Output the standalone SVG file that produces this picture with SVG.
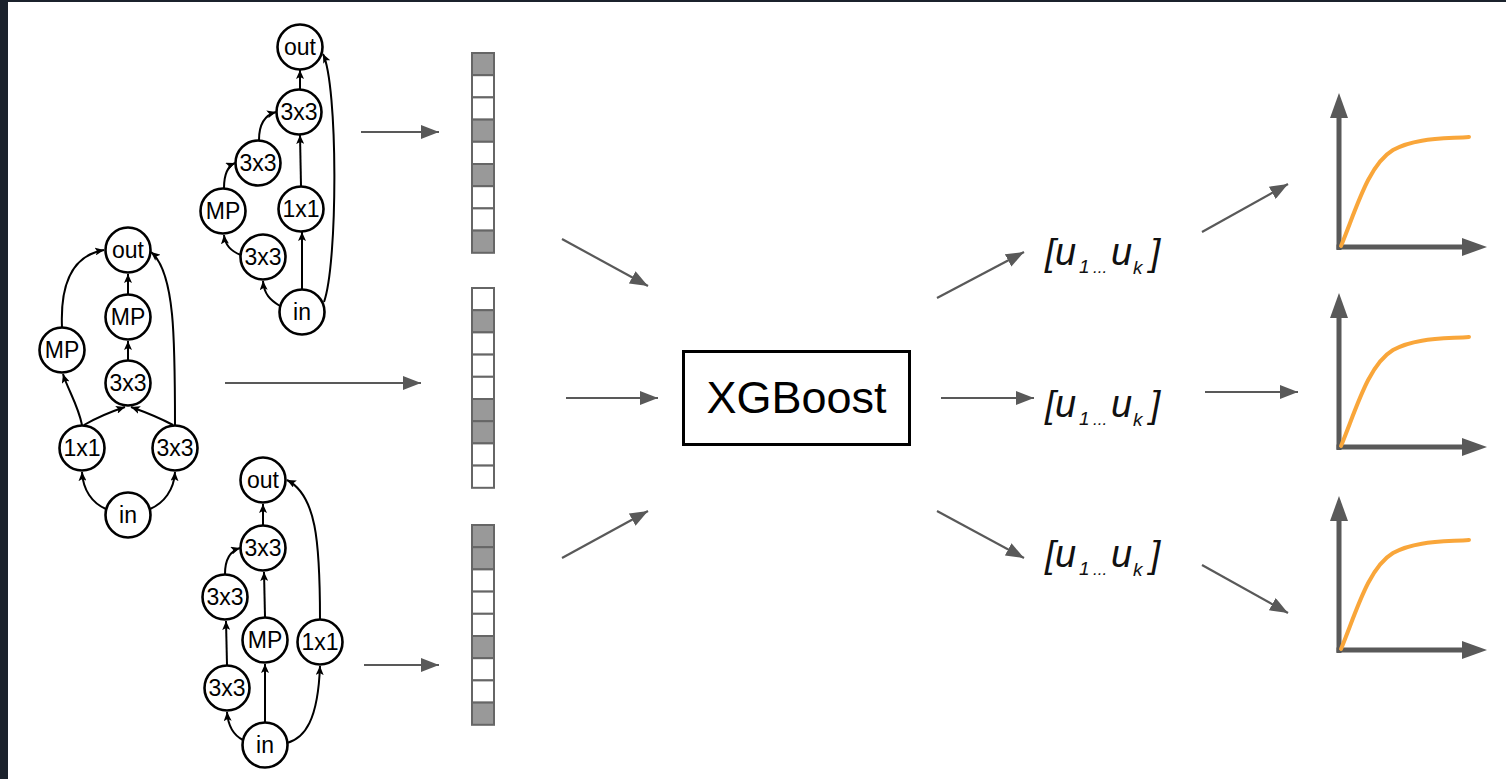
<svg xmlns="http://www.w3.org/2000/svg" xmlns:xlink="http://www.w3.org/1999/xlink" width="1506" height="779" viewBox="0 0 1506 779">
<style>
.nd circle{fill:#fff;stroke:#000;stroke-width:2.6}
.nd text{font-family:"Liberation Sans",Arial,sans-serif;font-size:23px;text-anchor:middle;fill:#000}
.ge{fill:none;stroke:#000;stroke-width:2;marker-end:url(#ah)}
.ce{fill:none;stroke:#595959;stroke-width:2.2;marker-end:url(#gh)}
.cell{stroke:#666;stroke-width:2}
.on{fill:#999}
.off{fill:#fff}
.lbl{font-family:"Liberation Sans",Arial,sans-serif;font-style:italic;fill:#111}
.ax{stroke:#595959;stroke-width:5;fill:none}
.axh{fill:#595959}
.cv{fill:none;stroke:#f9a63a;stroke-width:4;stroke-linecap:round}
</style>
<defs>
<marker id="ah" viewBox="0 0 9 8" refX="9" refY="4" markerWidth="9" markerHeight="8" markerUnits="userSpaceOnUse" orient="auto"><path d="M0,0 L9,4 L0,8 L2,4 z" fill="#000"/></marker>
<marker id="gh" viewBox="0 0 18 14" refX="18" refY="7" markerWidth="18" markerHeight="14" markerUnits="userSpaceOnUse" orient="auto"><path d="M0,0 L18,7 L0,14 z" fill="#595959"/></marker>
<g id="chartShape">
<line class="ax" x1="1339" y1="250" x2="1339" y2="114"/>
<polygon class="axh" points="1330,118 1339,93 1348,118"/>
<line class="ax" x1="1336.5" y1="247" x2="1465" y2="247"/>
<polygon class="axh" points="1462,238 1487,247 1462,256"/>
<path class="cv" d="M1341,246 C1356,210 1368,165 1393,150 C1415,138 1440,139 1469,137"/>
</g>
</defs>
<rect x="0" y="0" width="1506" height="779" fill="#1b222c"/>
<rect x="8" y="2" width="1498" height="777" fill="#fff"/>

<g id="connectors">
<!-- graph A edges -->
<path class="ge" d="M280,306 C270,300 264,294 263,281"/>
<path class="ge" d="M241,255 C230,251 225,245 224,235"/>
<path class="ge" d="M224,188 C224,175 228,166 235,163"/>
<path class="ge" d="M259,140 C259,125 265,115 276,112"/>
<line class="ge" x1="302" y1="289" x2="302" y2="232"/>
<line class="ge" x1="301" y1="186" x2="300" y2="135"/>
<line class="ge" x1="300" y1="89" x2="300" y2="70"/>
<path class="ge" d="M324,302 C338,262 338,85 323,54"/>
<!-- graph B edges -->
<path class="ge" d="M106,509 C92,503 83,490 82,472"/>
<path class="ge" d="M150,509 C164,503 174,490 175,472"/>
<path class="ge" d="M82,425 C78,405 68,390 63,374"/>
<path class="ge" d="M84,425 C96,418 110,412 125,407"/>
<path class="ge" d="M173,425 C160,418 145,412 131,407"/>
<path class="ge" d="M175,425 C175,340 175,272 151,252"/>
<line class="ge" x1="128" y1="360" x2="128" y2="341"/>
<line class="ge" x1="128" y1="294" x2="128" y2="274"/>
<path class="ge" d="M62,327 C60,280 75,255 104,250"/>
<!-- graph C edges -->
<path class="ge" d="M243,740 C233,735 228,725 227,712"/>
<line class="ge" x1="227" y1="665" x2="226" y2="621"/>
<path class="ge" d="M225,574 C225,560 230,551 240,548"/>
<line class="ge" x1="265" y1="722" x2="265" y2="664"/>
<line class="ge" x1="265" y1="617" x2="264" y2="572"/>
<line class="ge" x1="263" y1="525" x2="263" y2="504"/>
<path class="ge" d="M287,743 C305,738 318,720 320,666"/>
<path class="ge" d="M320,619 C320,540 316,495 287,480"/>
<!-- pipeline arrows -->
<line class="ce" x1="361" y1="132" x2="439" y2="132"/>
<line class="ce" x1="225" y1="383" x2="421" y2="383"/>
<line class="ce" x1="364" y1="665" x2="439" y2="665"/>
<line class="ce" x1="562" y1="239" x2="648" y2="286"/>
<line class="ce" x1="566" y1="398" x2="658" y2="398"/>
<line class="ce" x1="562" y1="558" x2="648" y2="511"/>
<line class="ce" x1="937" y1="298" x2="1024" y2="252"/>
<line class="ce" x1="941" y1="398" x2="1034" y2="398"/>
<line class="ce" x1="937" y1="511" x2="1024" y2="558"/>
<line class="ce" x1="1202" y1="232" x2="1288" y2="184"/>
<line class="ce" x1="1205" y1="392" x2="1298" y2="392"/>
<line class="ce" x1="1202" y1="565" x2="1288" y2="613"/>
</g>

<!-- Graph A -->
<g id="graphA" class="nd">
<g id="A_out"><circle cx="300" cy="47" r="22.5"/><text x="300" y="55">out</text></g>
<g id="A_3x3t"><circle cx="299" cy="112" r="22.5"/><text x="299" y="120">3x3</text></g>
<g id="A_3x3m"><circle cx="258" cy="163" r="22.5"/><text x="258" y="171">3x3</text></g>
<g id="A_MP"><circle cx="223" cy="211" r="22.5"/><text x="223" y="219">MP</text></g>
<g id="A_1x1"><circle cx="301" cy="209" r="22.5"/><text x="301" y="217">1x1</text></g>
<g id="A_3x3b"><circle cx="263" cy="257" r="22.5"/><text x="263" y="265">3x3</text></g>
<g id="A_in"><circle cx="302" cy="312" r="22.5"/><text x="302" y="320">in</text></g>
</g>
<!-- Graph B -->
<g id="graphB" class="nd">
<g id="B_out"><circle cx="128" cy="250" r="22.5"/><text x="128" y="258">out</text></g>
<g id="B_MP"><circle cx="128" cy="317" r="22.5"/><text x="128" y="325">MP</text></g>
<g id="B_MPl"><circle cx="62" cy="350" r="22.5"/><text x="62" y="358">MP</text></g>
<g id="B_3x3"><circle cx="128" cy="383" r="22.5"/><text x="128" y="391">3x3</text></g>
<g id="B_1x1"><circle cx="82" cy="448" r="22.5"/><text x="82" y="456">1x1</text></g>
<g id="B_3x3r"><circle cx="175" cy="448" r="22.5"/><text x="175" y="456">3x3</text></g>
<g id="B_in"><circle cx="128" cy="515" r="22.5"/><text x="128" y="523">in</text></g>
</g>
<!-- Graph C -->
<g id="graphC" class="nd">
<g id="C_out"><circle cx="263" cy="480" r="22.5"/><text x="263" y="488">out</text></g>
<g id="C_3x3t"><circle cx="263" cy="548" r="22.5"/><text x="263" y="556">3x3</text></g>
<g id="C_3x3l"><circle cx="225" cy="597" r="22.5"/><text x="225" y="605">3x3</text></g>
<g id="C_MP"><circle cx="265" cy="640" r="22.5"/><text x="265" y="648">MP</text></g>
<g id="C_1x1"><circle cx="320" cy="642" r="22.5"/><text x="320" y="650">1x1</text></g>
<g id="C_3x3b"><circle cx="227" cy="688" r="22.5"/><text x="227" y="696">3x3</text></g>
<g id="C_in"><circle cx="265" cy="745" r="22.5"/><text x="265" y="753">in</text></g>
</g>

<!-- Vectors -->
<g id="vec1">
<rect class="cell on" x="472" y="53" width="22" height="22.2"/>
<rect class="cell off" x="472" y="75.2" width="22" height="22.2"/>
<rect class="cell off" x="472" y="97.4" width="22" height="22.2"/>
<rect class="cell on" x="472" y="119.6" width="22" height="22.2"/>
<rect class="cell off" x="472" y="141.8" width="22" height="22.2"/>
<rect class="cell on" x="472" y="164" width="22" height="22.2"/>
<rect class="cell off" x="472" y="186.2" width="22" height="22.2"/>
<rect class="cell off" x="472" y="208.4" width="22" height="22.2"/>
<rect class="cell on" x="472" y="230.6" width="22" height="22.2"/>
</g>
<g id="vec2">
<rect class="cell off" x="472" y="288" width="22" height="22.2"/>
<rect class="cell on" x="472" y="310.2" width="22" height="22.2"/>
<rect class="cell off" x="472" y="332.4" width="22" height="22.2"/>
<rect class="cell off" x="472" y="354.6" width="22" height="22.2"/>
<rect class="cell off" x="472" y="376.8" width="22" height="22.2"/>
<rect class="cell on" x="472" y="399" width="22" height="22.2"/>
<rect class="cell on" x="472" y="421.2" width="22" height="22.2"/>
<rect class="cell off" x="472" y="443.4" width="22" height="22.2"/>
<rect class="cell off" x="472" y="465.6" width="22" height="22.2"/>
</g>
<g id="vec3">
<rect class="cell on" x="472" y="525" width="22" height="22.2"/>
<rect class="cell on" x="472" y="547.2" width="22" height="22.2"/>
<rect class="cell off" x="472" y="569.4" width="22" height="22.2"/>
<rect class="cell off" x="472" y="591.6" width="22" height="22.2"/>
<rect class="cell off" x="472" y="613.8" width="22" height="22.2"/>
<rect class="cell on" x="472" y="636" width="22" height="22.2"/>
<rect class="cell off" x="472" y="658.2" width="22" height="22.2"/>
<rect class="cell off" x="472" y="680.4" width="22" height="22.2"/>
<rect class="cell on" x="472" y="702.6" width="22" height="22.2"/>
</g>

<!-- XGBoost -->
<g id="xgboost">
<rect x="683.5" y="351.5" width="226" height="93" fill="#fff" stroke="#000" stroke-width="3"/>
<text x="796.5" y="413" font-family="'Liberation Sans',Arial,sans-serif" font-size="45" text-anchor="middle" fill="#000">XGBoost</text>
</g>

<!-- labels -->
<g id="u1">
<text class="lbl"><tspan x="1045" y="265" font-size="37">[</tspan><tspan x="1055" y="265" font-size="38">u</tspan><tspan x="1079" y="273" font-size="19">1</tspan><tspan x="1093" y="273" font-size="17">...</tspan><tspan x="1111" y="265" font-size="38">u</tspan><tspan x="1133" y="274" font-size="19">k</tspan><tspan x="1150" y="265" font-size="37">]</tspan></text>
</g>
<g id="u2">
<text class="lbl"><tspan x="1045" y="417" font-size="37">[</tspan><tspan x="1055" y="417" font-size="38">u</tspan><tspan x="1079" y="425" font-size="19">1</tspan><tspan x="1093" y="425" font-size="17">...</tspan><tspan x="1111" y="417" font-size="38">u</tspan><tspan x="1133" y="426" font-size="19">k</tspan><tspan x="1150" y="417" font-size="37">]</tspan></text>
</g>
<g id="u3">
<text class="lbl"><tspan x="1045" y="567" font-size="37">[</tspan><tspan x="1055" y="567" font-size="38">u</tspan><tspan x="1079" y="575" font-size="19">1</tspan><tspan x="1093" y="575" font-size="17">...</tspan><tspan x="1111" y="567" font-size="38">u</tspan><tspan x="1133" y="576" font-size="19">k</tspan><tspan x="1150" y="567" font-size="37">]</tspan></text>
</g>

<!-- charts -->
<g id="chart1"><use xlink:href="#chartShape"/></g>
<g id="chart2"><use xlink:href="#chartShape" y="200"/></g>
<g id="chart3"><use xlink:href="#chartShape" y="403"/></g>
</svg>
